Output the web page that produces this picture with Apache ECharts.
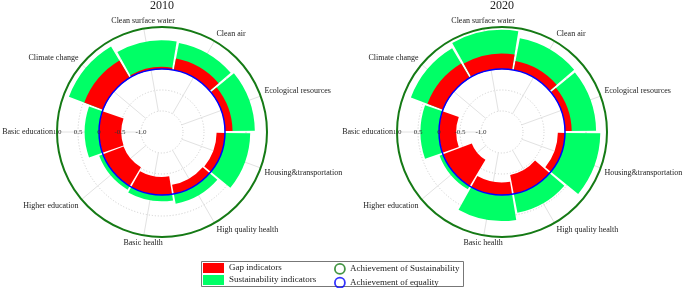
<!DOCTYPE html>
<html>
<head>
<meta charset="utf-8">
<script src="https://cdn.jsdelivr.net/npm/echarts@6/dist/echarts.min.js"></script>
<style>
  html, body { margin: 0; padding: 0; background: #fff; }
  #main { width: 685px; height: 288px; }
</style>
</head>
<body>
<div id="main"></div>
<script>
// 数据：九个指标，顺时针排列
const categories = ['Clean surface water', 'Clean air', 'Ecological resources', 'Housing&transportation',
  'High quality health', 'Basic health', 'Higher education', 'Basic education', 'Climate change'];
const years = ['2010', '2020'];
const sust2010 = [0.68, 0.66, 0.71, 0.60, 0.24, 0.15, 0.10, 0.34, 0.87];
const gap2010 = [0.05, 0.28, 0.18, -0.20, -0.22, -0.43, -0.52, -0.53, 0.48];
const sust2020 = [0.93, 0.77, 0.74, 0.84, 0.46, 0.62, 0.09, 0.44, 0.82];
const gap2020 = [0.37, 0.22, 0.16, -0.17, -0.46, -0.30, -0.73, -0.41, 0.40];
const radialTicks = [-1.5, -1.0, -0.5, 0, 0.5, 1.0];
const equalityLevel = 0;     // 蓝圈
const sustainLevel = 1.0;    // 绿圈（外圈）

const RED = '#FF0000';
const GREEN = '#00FF66';
const RING_GREEN = '#157A15';
const RING_BLUE = '#0000FF';
const FONT = 'Liberation Serif';
const NONE = 'rgba(0,0,0,0)';

const centers = [[162, 132], [502, 132]];
const R = 105;
const innerR = 21;  // -1.0 所在半径，网格线从这里开始

const polar = [], angleAxis = [], radiusAxis = [], series = [], title = [];

years.forEach((yr, k) => {
  const c = centers[k];
  const sust = k === 0 ? sust2010 : sust2020;
  const gap = k === 0 ? gap2010 : gap2020;

  // 网格层：辐条与虚线圆
  polar.push({ center: c, radius: [innerR, R] });
  angleAxis.push({
    polarIndex: 3 * k, type: 'value', min: 0, max: 360, interval: 40, startAngle: 180,
    axisLine: { show: false }, axisTick: { show: false }, axisLabel: { show: false },
    splitLine: { show: true, lineStyle: { color: '#e2e2e2', width: 1 } }
  });
  radiusAxis.push({
    polarIndex: 3 * k, type: 'value', min: -1.0, max: sustainLevel, interval: 0.5,
    axisLine: { show: false }, axisTick: { show: false }, axisLabel: { show: false },
    splitLine: {
      show: true,
      lineStyle: {
        type: [1, 2], width: 1,
        color: radialTicks.slice(1).map(t => (t === equalityLevel || t === sustainLevel) ? NONE : '#cccccc')
      }
    }
  });

  // 柱状层：类别标签 + 外圈
  polar.push({ center: c, radius: [0, R] });
  angleAxis.push({
    polarIndex: 3 * k + 1, type: 'category', data: categories, startAngle: 120, clockwise: true,
    axisLine: { show: true, lineStyle: { color: RING_GREEN, width: 2 } },
    axisTick: { show: false }, splitLine: { show: false },
    axisLabel: { margin: 4, fontFamily: FONT, fontSize: 8, color: '#222' }
  });
  radiusAxis.push({
    polarIndex: 3 * k + 1, type: 'value', min: radialTicks[0], max: sustainLevel, show: false
  });

  // 蓝圈层 + 半径刻度文字（在柱子上面）
  polar.push({ center: c, radius: [0, R] });
  angleAxis.push({ polarIndex: 3 * k + 2, type: 'value', min: 0, max: 360, startAngle: 180, show: false });
  radiusAxis.push({
    polarIndex: 3 * k + 2, type: 'value', min: radialTicks[0], max: sustainLevel, interval: 0.5, z: 5,
    axisLine: { show: false }, axisTick: { show: false },
    axisLabel: {
      show: true, margin: 0, verticalAlign: 'middle', align: 'center',
      fontFamily: FONT, fontSize: 7, color: '#333',
      formatter: v => (v === radialTicks[0] ? '' : v === 0 ? '0' : v.toFixed(1))
    },
    splitLine: {
      show: true,
      lineStyle: { width: 1.5, color: radialTicks.map(t => (t === equalityLevel ? RING_BLUE : NONE)) }
    }
  });

  series.push({
    name: 'Sustainability indicators', type: 'bar', coordinateSystem: 'polar', polarIndex: 3 * k + 1,
    data: sust, barCategoryGap: '4%', barGap: '-100%', itemStyle: { color: GREEN }, z: 2
  });
  series.push({
    name: 'Gap indicators', type: 'bar', coordinateSystem: 'polar', polarIndex: 3 * k + 1,
    data: gap, barCategoryGap: '4%', barGap: '-100%', itemStyle: { color: RED }, z: 3
  });

  title.push({
    text: yr, left: c[0], top: 0, padding: 0, textAlign: 'center',
    textStyle: { fontFamily: FONT, fontSize: 12, fontWeight: 'normal', color: '#222' }
  });
});

// 图例用的空系列（圆圈由坐标轴画出）
series.push({ name: 'Achievement of Sustainability', type: 'scatter', coordinateSystem: 'polar', polarIndex: 1, data: [] });
series.push({ name: 'Achievement of equality', type: 'scatter', coordinateSystem: 'polar', polarIndex: 1, data: [] });

const chart = echarts.init(document.getElementById('main'), null, { renderer: 'canvas' });
chart.setOption({
  animation: false,
  backgroundColor: '#fff',
  title: title,
  polar: polar,
  angleAxis: angleAxis,
  radiusAxis: radiusAxis,
  legend: [
    {
      left: 203, top: 263, height: 40, orient: 'vertical', itemWidth: 21, itemHeight: 10, itemGap: 2, padding: 0,
      selectedMode: false, icon: 'rect',
      textStyle: { fontFamily: FONT, fontSize: 9, color: '#222' },
      data: [
        { name: 'Gap indicators', itemStyle: { color: RED } },
        { name: 'Sustainability indicators', itemStyle: { color: GREEN } }
      ]
    },
    {
      left: 334, top: 263, height: 40, orient: 'vertical', itemWidth: 10, itemHeight: 10, itemGap: 2, padding: 0,
      selectedMode: false,
      textStyle: { fontFamily: FONT, fontSize: 9, color: '#222' },
      data: [
        { name: 'Achievement of Sustainability', icon: 'circle', itemStyle: { color: NONE, borderColor: RING_GREEN, borderWidth: 1.8 } },
        { name: 'Achievement of equality', icon: 'circle', itemStyle: { color: NONE, borderColor: RING_BLUE, borderWidth: 1.8 } }
      ]
    }
  ],
  graphic: [{
    type: 'rect', left: 201, top: 261, z: 0,
    shape: { width: 262, height: 25 },
    style: { fill: NONE, stroke: '#777', lineWidth: 1 }
  }],
  series: series
});
</script>
</body>
</html>
